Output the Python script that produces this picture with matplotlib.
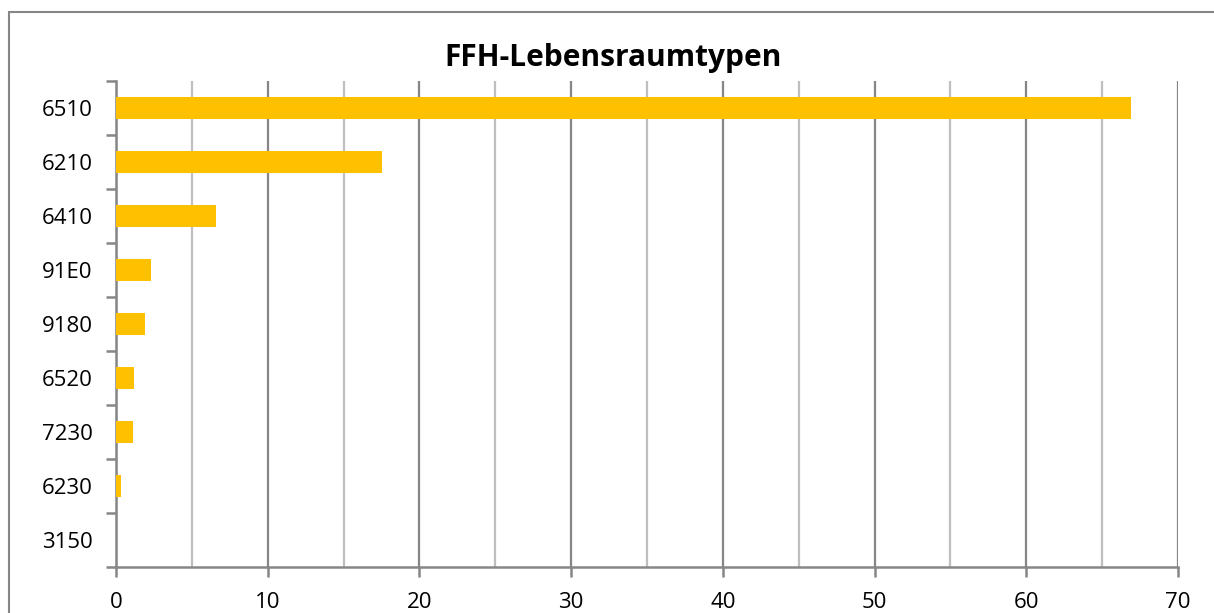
import matplotlib
matplotlib.use("Agg")
import matplotlib.pyplot as plt
from matplotlib.patches import Rectangle
from matplotlib.ticker import MultipleLocator, FixedLocator
import numpy as np

categories = ["6510", "6210", "6410", "91E0", "9180", "6520", "7230", "6230", "3150"]
values = [66.9, 17.5, 6.6, 2.3, 1.9, 1.2, 1.1, 0.3, 0.0]
title = "FFH-Lebensraumtypen"
x_ticks = [0, 10, 20, 30, 40, 50, 60, 70]

W, H = 1214, 613
fig = plt.figure(figsize=(W / 100, H / 100), dpi=100)
fig.patch.set_facecolor("white")

# outer chart border
fig.add_artist(Rectangle((9 / W, -0.1), 1.2, 1 - 12 / H + 0.1, transform=fig.transFigure,
                         fill=False, edgecolor="#868686", linewidth=1.5))

ax = fig.add_axes([116 / W, 1 - 567 / H, (1178 - 116) / W, (567 - 81) / H])
y = np.arange(len(categories))
ax.barh(y, values, height=0.4, color="#FFC000", zorder=3)
ax.set_ylim(len(categories) - 0.5, -0.5)
ax.set_xlim(0, 70)

ax.xaxis.set_major_locator(FixedLocator(x_ticks))
ax.xaxis.set_minor_locator(MultipleLocator(5))
ax.grid(axis="x", which="major", color="#868686", linewidth=1.6, zorder=0)
ax.grid(axis="x", which="minor", color="#BFBFBF", linewidth=1.6, zorder=0)
ax.grid(axis="y", visible=False)

ax.set_yticks(y)
ax.set_yticklabels(categories)
ax.set_yticks(np.arange(-0.5, len(categories), 1), minor=True)

for s in ["top", "right"]:
    ax.spines[s].set_visible(False)
for s in ["left", "bottom"]:
    ax.spines[s].set_color("#868686")
    ax.spines[s].set_linewidth(1.8)

font = "Open Sans"
ax.tick_params(axis="y", which="major", length=0, pad=17, labelsize=16, labelcolor="black")
ax.tick_params(axis="y", which="minor", length=7, width=1.8, color="#868686")
ax.tick_params(axis="x", which="major", length=7, width=1.8, color="#868686", pad=11,
               labelsize=16, labelcolor="black")
ax.tick_params(axis="x", which="minor", length=0)
for lab in ax.get_xticklabels() + ax.get_yticklabels():
    lab.set_fontfamily(font)

fig.text(613 / W, 1 - 58 / H, title, ha="center", va="center", fontsize=21.5,
         fontweight="bold", family=font)

fig.savefig("out.png", dpi=100)
